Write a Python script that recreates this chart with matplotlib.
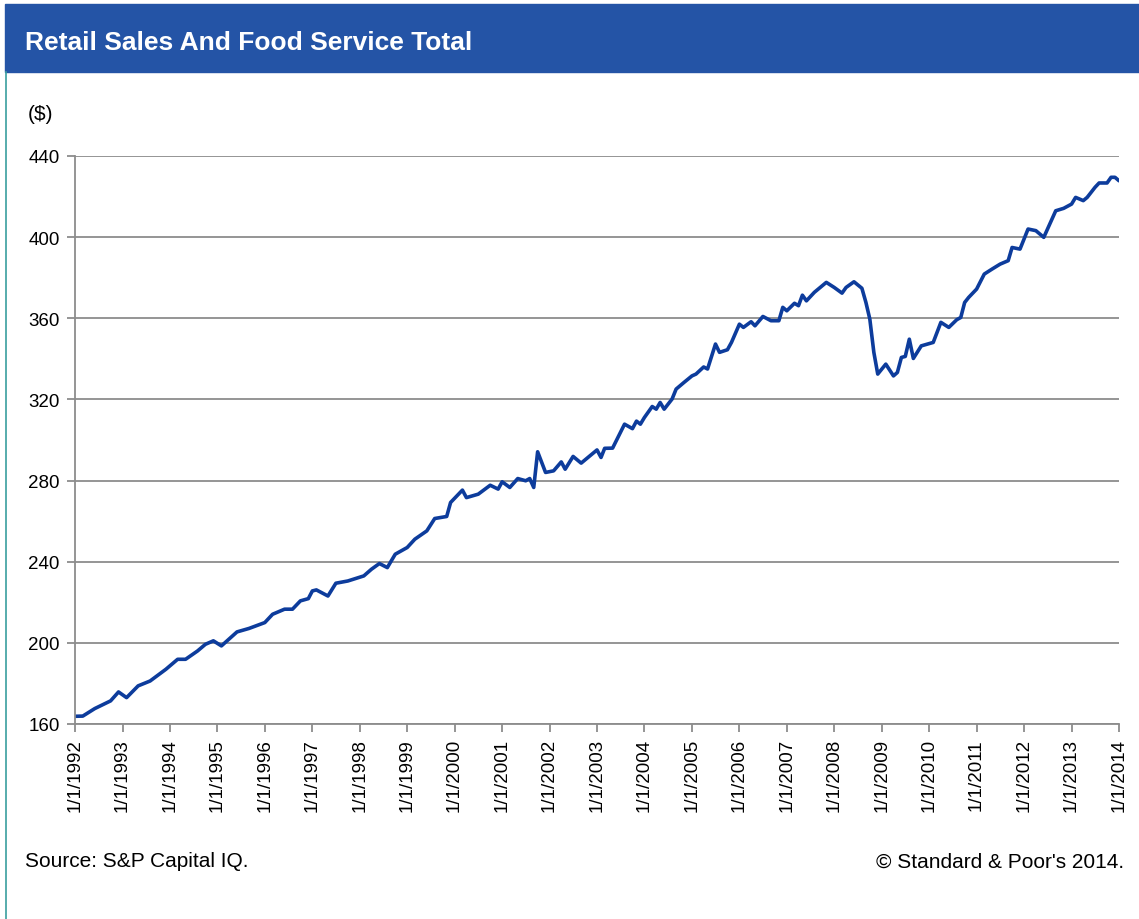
import pandas as pd
import matplotlib.pyplot as plt
from matplotlib.patches import Rectangle
from matplotlib.lines import Line2D

plt.rcParams['font.family'] = ['Liberation Sans', 'DejaVu Sans']

# Monthly retail sales and food service total (billions of $)
months = [
    '1992-01', '1992-03', '1992-06', '1992-10', '1992-12',
    '1993-02', '1993-05', '1993-08', '1993-12',
    '1994-03', '1994-05', '1994-08', '1994-10', '1994-12',
    '1995-02', '1995-06', '1995-09',
    '1996-01', '1996-03', '1996-06', '1996-08', '1996-10', '1996-12',
    '1997-01', '1997-02', '1997-05', '1997-07', '1997-10',
    '1998-02', '1998-04', '1998-06', '1998-08', '1998-10',
    '1999-01', '1999-03', '1999-06', '1999-08', '1999-11', '1999-12',
    '2000-03', '2000-04', '2000-07', '2000-10', '2000-12',
    '2001-01', '2001-03', '2001-05', '2001-07', '2001-08', '2001-09',
    '2001-10', '2001-12',
    '2002-02', '2002-04', '2002-05', '2002-07', '2002-09',
    '2003-01', '2003-02', '2003-03', '2003-05', '2003-08', '2003-10',
    '2003-11', '2003-12',
    '2004-01', '2004-03', '2004-04', '2004-05', '2004-06', '2004-08',
    '2004-09', '2004-11',
    '2005-01', '2005-02', '2005-04', '2005-05', '2005-07', '2005-08',
    '2005-10', '2005-11',
    '2006-01', '2006-02', '2006-04', '2006-05', '2006-07', '2006-09',
    '2006-11', '2006-12',
    '2007-01', '2007-03', '2007-04', '2007-05', '2007-06', '2007-08',
    '2007-11',
    '2008-01', '2008-03', '2008-04', '2008-06', '2008-08', '2008-09',
    '2008-10', '2008-11', '2008-12',
    '2009-02', '2009-04', '2009-05', '2009-06', '2009-07', '2009-08',
    '2009-09', '2009-11',
    '2010-02', '2010-04', '2010-06', '2010-08', '2010-09', '2010-10',
    '2010-11',
    '2011-01', '2011-03', '2011-05', '2011-07', '2011-09', '2011-10',
    '2011-12',
    '2012-02', '2012-04', '2012-06', '2012-09', '2012-11',
    '2013-01', '2013-02', '2013-04', '2013-05', '2013-07', '2013-08',
    '2013-10', '2013-11', '2013-12',
    '2014-01',
]
sales = [
    163.8, 163.9, 167.6, 171.4, 175.8,
    173.0, 178.8, 181.2, 187.0,
    191.9, 191.9, 196.0, 199.3, 201.0,
    198.5, 205.4, 207.1,
    210.0, 214.1, 216.6, 216.6, 220.7, 221.8,
    225.6, 226.1, 223.1, 229.4, 230.5,
    233.0, 236.3, 239.1, 237.1, 243.7,
    247.0, 251.1, 255.2, 261.3, 262.3, 269.2,
    275.3, 271.6, 273.3, 277.7, 275.8,
    279.4, 276.6, 281.0, 279.9, 281.0, 276.6,
    294.2, 284.0,
    284.8, 289.2, 285.6, 291.9, 288.6,
    295.1, 291.4, 295.9, 296.0, 307.8, 305.6,
    309.3, 307.8,
    311.1, 316.5, 315.2, 318.5, 315.2, 320.2,
    325.1, 328.4,
    331.6, 332.5, 336.0, 335.0, 347.3, 343.2,
    344.5, 348.1,
    357.1, 355.5, 358.3, 356.3, 360.9, 358.8,
    358.8, 365.4,
    363.7, 367.4, 366.2, 371.4, 368.6, 372.8,
    377.7,
    375.2, 372.4, 375.2, 378.0, 374.8, 367.8,
    359.6, 343.2, 332.5,
    337.4, 331.6, 333.3, 340.7, 341.2, 349.7,
    340.2, 346.4,
    348.1, 358.0, 355.5, 359.3, 360.4, 367.8,
    370.3,
    374.4, 381.8, 384.3, 386.7, 388.4, 394.9,
    394.1,
    404.0, 403.2, 399.9, 413.0, 414.2,
    416.3, 419.6, 418.0, 419.6, 424.6, 426.7,
    426.7, 429.5, 429.5,
    427.8,
]
years = list(range(1992, 2015))
yticks = [160, 200, 240, 280, 320, 360, 400, 440]

dates = pd.to_datetime(months)

fig = plt.figure(figsize=(11.39, 9.2), dpi=100)

# header band and left border
fig.patches.append(Rectangle((5 / 1139, 1 - 73 / 920), 1 - 5 / 1139, 68 / 920,
                             transform=fig.transFigure, color='#2454a6', zorder=0))
fig.lines.append(Line2D([5.5 / 1139, 5.5 / 1139], [0, 1 - 73 / 920],
                        transform=fig.transFigure, color='#3a9e9e', lw=1.2))
fig.text(25 / 1139, 1 - 43 / 920, 'Retail Sales And Food Service Total',
         color='white', fontsize=19, fontweight='bold', va='center', ha='left')

ax = fig.add_axes([75 / 1139, 1 - 725 / 920, 1044 / 1139, 568 / 920])
ax.plot(dates, sales, color='#0d3c9c', lw=2.6, solid_joinstyle='round',
        solid_capstyle='round')

ax.set_ylim(160, 440)
ax.set_yticks(yticks)
ax.set_xlim(pd.Timestamp('1992-01-01'), pd.Timestamp('2014-01-01'))
tick_dates = [pd.Timestamp(f'{y}-01-01') for y in years]
ax.set_xticks(tick_dates)
ax.set_xticklabels([f'1/1/{y}' for y in years], rotation=90)

ax.grid(axis='y', color='#8c8c8c', lw=1.3)
ax.set_axisbelow(True)
for s in ['top', 'right']:
    ax.spines[s].set_visible(False)
for s in ['left', 'bottom']:
    ax.spines[s].set_color('#8c8c8c')
    ax.spines[s].set_linewidth(1.3)
ax.tick_params(axis='both', colors='#8c8c8c', labelcolor='black',
               labelsize=13.5, length=6, width=1.3, direction='out')
ax.tick_params(axis='y', pad=5)
ax.tick_params(axis='x', pad=4)

fig.text(28 / 1139, 1 - 114 / 920, '($)', fontsize=15, va='center', ha='left')
fig.text(25 / 1139, 1 - 862 / 920, 'Source: S&P Capital IQ.', fontsize=15,
         va='center', ha='left')
fig.text(1124 / 1139, 1 - 862 / 920, '\u00a9 Standard & Poor\'s 2014.',
         fontsize=15, va='center', ha='right')

fig.savefig('out.png', dpi=100)
